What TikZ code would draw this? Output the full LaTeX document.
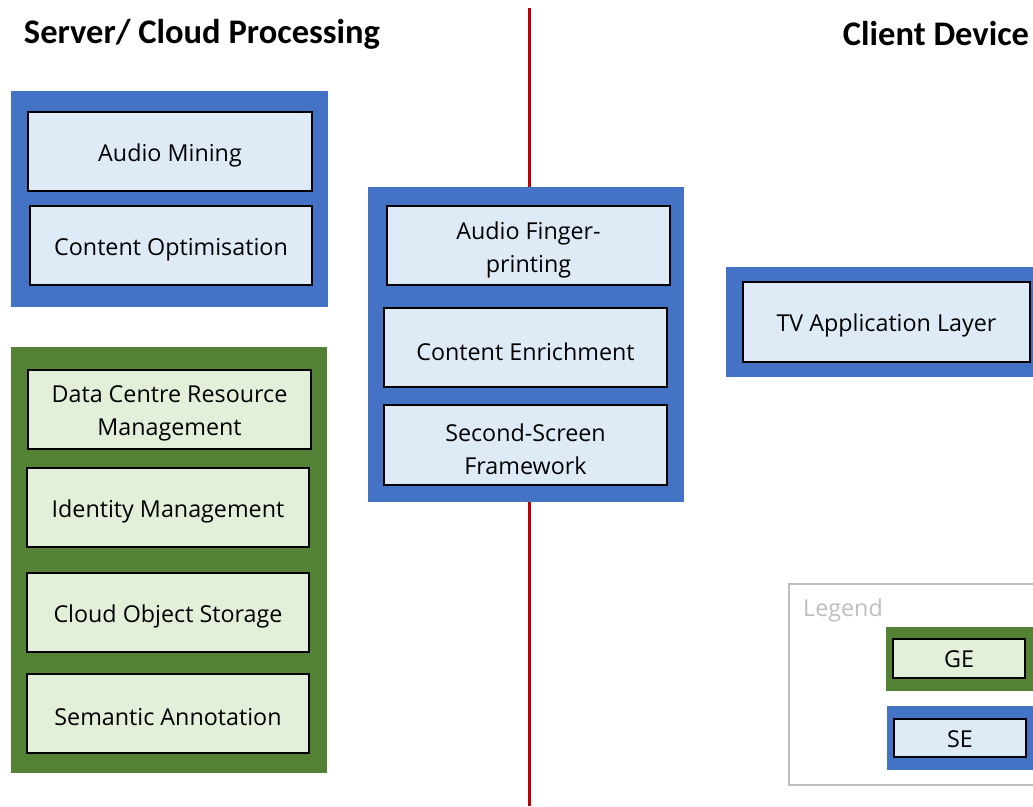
\documentclass[tikz,border=0pt]{standalone}
\usepackage{fontspec}
\setmainfont{Open Sans}
\newfontfamily\titlefont{Carlito}
\definecolor{seblue}{HTML}{4472C4}
\definecolor{gegreen}{HTML}{548235}
\definecolor{seinner}{HTML}{DEEBF7}
\definecolor{geinner}{HTML}{E2F0D9}
\definecolor{divred}{HTML}{C00000}
\definecolor{leggray}{HTML}{BFBFBF}
\tikzset{
  outerse/.style={fill=seblue, draw=none, inner sep=0pt},
  outerge/.style={fill=gegreen, draw=none, inner sep=0pt},
  boxtext/.style={yshift=-4pt, inner sep=0pt, align=center, font=\fontsize{23.3}{33}\selectfont},
  innerse/.style={fill=seinner, draw=black, line width=1.5pt, inner sep=0pt},
  innerge/.style={fill=geinner, draw=black, line width=1.5pt, inner sep=0pt},
  titletext/.style={font=\titlefont\fontsize{34.5}{38}\selectfont\bfseries},
}
\begin{document}
\begin{tikzpicture}[x=1pt,y=-1pt]
\useasboundingbox (0,0) rectangle (1033,806);
\clip (0,0) rectangle (1033,806);
% divider
\coordinate (rtop) at (529,8);
\coordinate (rbot) at (529,806);
\draw[divred, line width=3pt] (rtop) -- (rbot);
% titles
\node[titletext] (t1) at (202,34.5) {Server/ Cloud Processing};
\node[titletext] (t2) at (936,33.5) {Client Device};
% blue box 1
\node[outerse, minimum width=317pt, minimum height=216pt] (b1) at (169.5,199) {};
\node[innerse, minimum width=284pt, minimum height=79pt, label={[boxtext]center:Audio Mining}] (am) at (170,151.5) {};
\node[innerse, minimum width=282pt, minimum height=79pt, label={[boxtext]center:Content Optimisation}] (co) at (171,245.5) {};
% green box
\node[outerge, minimum width=316pt, minimum height=426pt] (g1) at (169,560) {};
\node[innerge, minimum width=283pt, minimum height=79pt, label={[boxtext]center:Data Centre Resource\\Management}] (dc) at (169.5,409.5) {};
\node[innerge, minimum width=282pt, minimum height=79pt, label={[boxtext]center:Identity Management}] (im) at (168,507.5) {};
\node[innerge, minimum width=282pt, minimum height=79pt, label={[boxtext]center:Cloud Object Storage}] (cos) at (168,612.5) {};
\node[innerge, minimum width=282pt, minimum height=79pt, label={[boxtext]center:Semantic Annotation}] (sa) at (168,713.5) {};
% blue box 2
\node[outerse, minimum width=316pt, minimum height=315pt] (b2) at (526,344.5) {};
\node[innerse, minimum width=283pt, minimum height=79pt, label={[boxtext]center:Audio Finger-\\printing}] (af) at (528.5,245.5) {};
\node[innerse, minimum width=283pt, minimum height=79pt, label={[boxtext]center:Content Enrichment}] (ce) at (525.5,347.5) {};
\node[innerse, minimum width=283pt, minimum height=80pt, label={[boxtext]center:Second-Screen\\Framework}] (ss) at (525.5,445) {};
% TV
\node[outerse, minimum width=314pt, minimum height=110pt] (b3) at (883,322) {};
\node[innerse, minimum width=287pt, minimum height=80pt, label={[boxtext, yshift=1pt]center:TV Application Layer}] (tv) at (886.5,322) {};
% legend
\node[draw=leggray, line width=1.2pt, fill=white, minimum width=260pt, minimum height=201pt, inner sep=0pt] (leg) at (919,684.5) {};
\node[anchor=west, text=leggray, font=\fontsize{23.3}{26}\selectfont, inner sep=0pt] (legt) at (803,610) {Legend};
\node[outerge, minimum width=160pt, minimum height=64pt] (lgo) at (966,659) {};
\node[innerge, minimum width=132pt, minimum height=39pt, label={[boxtext, yshift=3pt]center:GE}] (lge) at (959,658.5) {};
\node[outerse, minimum width=160pt, minimum height=64pt] (lso) at (967,738) {};
\node[innerse, minimum width=132pt, minimum height=38pt, label={[boxtext, yshift=3pt]center:SE}] (lse) at (960,738) {};
\end{tikzpicture}
\end{document}
